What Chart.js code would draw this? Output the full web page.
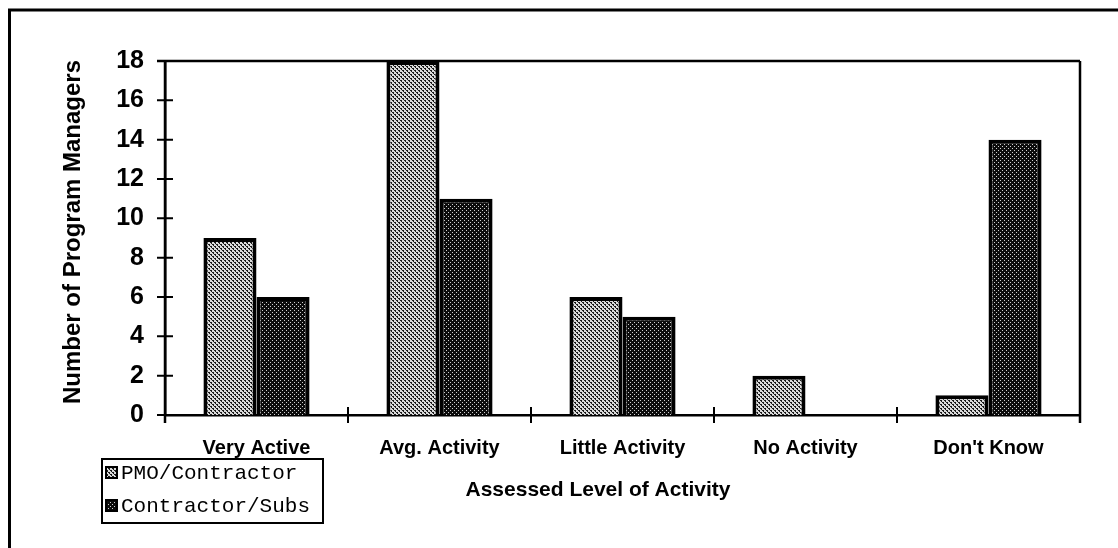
<!DOCTYPE html>
<html>
<head>
<meta charset="utf-8">
<script src="https://cdn.jsdelivr.net/npm/chart.js@4"></script>
<style>
html,body{margin:0;padding:0;background:#fff;}
#wrap{width:1118px;height:548px;position:relative;}
</style>
</head>
<body>
<div id="wrap"><canvas id="c" width="1118" height="548"></canvas></div>
<script>
const categories = ["Very Active", "Avg. Activity", "Little Activity", "No Activity", "Don't Know"];
const pmoContractor = [9, 18, 6, 2, 1];
const contractorSubs = [6, 11, 5, 0, 14];
const seriesNames = ["PMO/Contractor", "Contractor/Subs"];
const yTicks = [0, 2, 4, 6, 8, 10, 12, 14, 16, 18];
const xTitle = "Assessed Level of Activity";
const yTitle = "Number of Program Managers";

function makePattern(bg, fg, pts, size) {
  const cv = document.createElement('canvas');
  cv.width = size; cv.height = size;
  const g = cv.getContext('2d');
  g.fillStyle = bg; g.fillRect(0, 0, size, size);
  g.fillStyle = fg;
  pts.forEach(p => g.fillRect(p[0], p[1], 1, 1));
  return g.createPattern(cv, 'repeat');
}
const ctx = document.getElementById('c').getContext('2d');
const lightPat = makePattern('#dadada', '#1a1a1a', [[0,0],[1,1],[2,2],[3,3],[1,0],[3,2]], 4);
const darkPat = makePattern('#0c0c0c', '#d0d0d0', [[0,0],[2,2]], 4);

const decor = {
  id: 'decor',
  afterDraw(chart) {
    const c = chart.ctx;
    const a = chart.chartArea;
    const ys = chart.scales.y, xs = chart.scales.x;
    c.save();
    c.strokeStyle = '#000';
    c.fillStyle = '#000';
    // outer border (top + left)
    c.lineWidth = 3;
    c.beginPath();
    c.moveTo(8, 10); c.lineTo(1118, 10);
    c.moveTo(9.5, 9); c.lineTo(9.5, 548);
    c.stroke();
    // plot frame top + right
    c.lineWidth = 2.5;
    c.beginPath();
    c.moveTo(a.left - 8, a.top); c.lineTo(a.right, a.top);
    c.moveTo(a.right, a.top); c.lineTo(a.right, a.bottom + 8);
    c.moveTo(a.left, a.top); c.lineTo(a.left, a.bottom + 8);
    c.stroke();
    // y ticks crossing axis
    c.lineWidth = 2;
    c.beginPath();
    yTicks.forEach(v => {
      const y = ys.getPixelForValue(v);
      c.moveTo(a.left - 8, y); c.lineTo(a.left + 8, y);
    });
    // x ticks at category boundaries
    const n = categories.length;
    for (let i = 0; i <= n; i++) {
      const x = xs.getPixelForValue(i - 0.5);
      c.moveTo(x, a.bottom - 8); c.lineTo(x, a.bottom + 8);
    }
    c.stroke();
    // axis titles
    c.font = 'bold 21px "Liberation Sans", Arial, sans-serif';
    c.textAlign = 'center';
    c.textBaseline = 'middle';
    c.fillText(xTitle, 598, 490);
    c.save();
    c.translate(73, 232);
    c.rotate(-Math.PI / 2);
    c.font = 'bold 24px "Liberation Sans", Arial, sans-serif';
    c.fillText(yTitle, 0, 0);
    c.restore();
    // legend
    c.lineWidth = 2;
    c.strokeRect(102, 459, 221, 64);
    c.font = '21px "Courier New", "Liberation Mono", monospace';
    c.textAlign = 'left';
    c.textBaseline = 'middle';
    const rows = [472, 505];
    chart.data.datasets.forEach((ds, i) => {
      const ym = rows[i];
      c.fillStyle = ds.backgroundColor;
      c.fillRect(106, ym - 5, 11, 11);
      c.strokeStyle = '#000';
      c.lineWidth = 2;
      c.strokeRect(106, ym - 5, 11, 11);
      c.fillStyle = '#000';
      c.fillText(ds.label, 121, ym + 1);
    });
    c.restore();
  }
};

new Chart(ctx, {
  type: 'bar',
  data: {
    labels: categories,
    datasets: [
      { label: seriesNames[0], data: pmoContractor, backgroundColor: lightPat, borderColor: '#000', borderWidth: 4, borderSkipped: 'start', barPercentage: 1.0, categoryPercentage: 0.58 },
      { label: seriesNames[1], data: contractorSubs, backgroundColor: darkPat, borderColor: '#000', borderWidth: 4, borderSkipped: 'start', barPercentage: 1.0, categoryPercentage: 0.58 }
    ]
  },
  options: {
    responsive: false,
    animation: false,
    devicePixelRatio: 1,
    layout: { padding: { top: 61, right: 38, left: 0, bottom: 0 } },
    plugins: { legend: { display: false }, tooltip: { enabled: false } },
    scales: {
      x: {
        grid: { display: false, drawTicks: false },
        border: { display: true, color: '#000', width: 2.5 },
        ticks: { color: '#000', font: { family: '"Liberation Sans", Arial, sans-serif', size: 20, weight: 'bold' }, padding: 21, maxRotation: 0 },
        afterFit(s) { s.height = 133; }
      },
      y: {
        min: 0, max: 18,
        afterBuildTicks(s) { s.ticks = yTicks.map(v => ({ value: v })); },
        grid: { display: false, drawTicks: false },
        border: { display: true, color: '#000', width: 2.5 },
        ticks: { color: '#000', font: { family: '"Liberation Sans", Arial, sans-serif', size: 25, weight: 'bold' }, padding: 21 },
        afterFit(s) { s.width = 165; }
      }
    }
  },
  plugins: [decor]
});
</script>
</body>
</html>
